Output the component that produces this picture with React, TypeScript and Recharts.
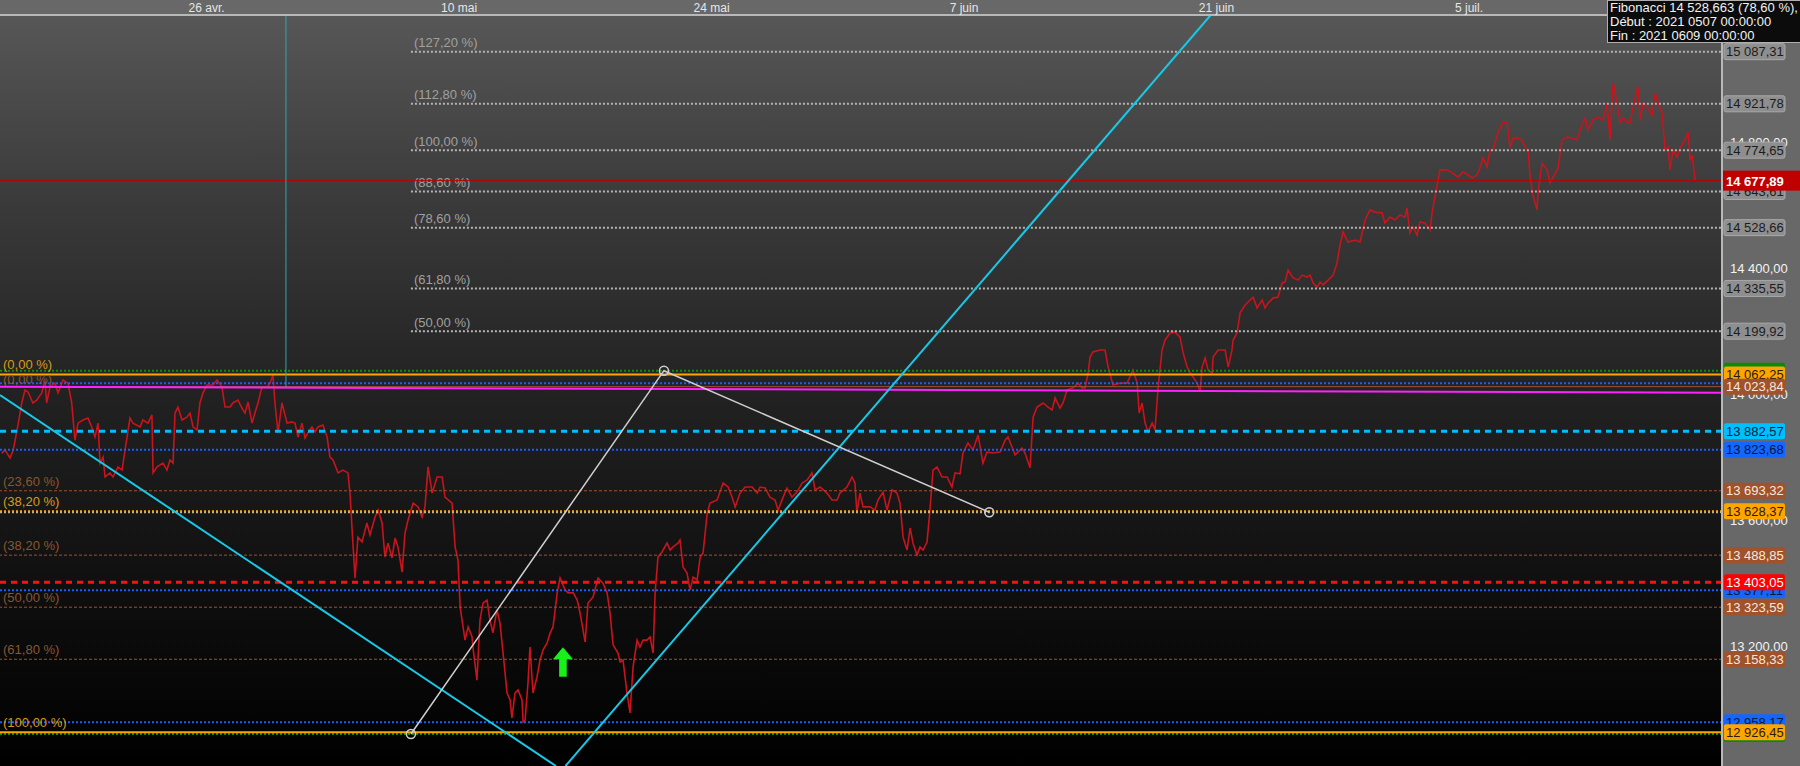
import React from "react";
import { LineChart, Line, XAxis, YAxis, ReferenceLine, ReferenceDot } from "recharts";

// ---- axes ----
const X_MIN = -11.456; // days relative to 26 avr.
const X_MAX = 84.03;
const Y_MIN = 12819.4;
const Y_MAX = 15203.8;
const xTickDays = [0, 14, 28, 42, 56, 70];
const xTickLabels = ["26 avr.", "10 mai", "24 mai", "7 juin", "21 juin", "5 juil."];
const yTicks = [13200, 13600, 14000, 14400, 14800, 15200];

// ---- price series: [day, value] ----
const priceSeries: [number, number][] = [
  [-11.36,13812],[-11.18,13823],[-10.9,13797],[-10.72,13823],[-10.44,13908],[-10.25,13972],[-10.07,14013],[-9.9,14007],[-9.63,13972],[-9.42,13981],[-9.14,14004],[-8.96,14045],[-8.87,13972],[-8.68,14023],[-8.41,14035],[-8.24,14004],[-7.96,14045],[-7.69,14035],[-7.48,13972],[-7.3,13854],[-7.13,13908],[-6.85,13918],[-6.58,13924],[-6.37,13896],[-6.19,13864],[-6.02,13908],[-5.91,13781],[-5.74,13800],[-5.63,13737],[-5.36,13750],[-5.19,13737],[-4.91,13769],[-4.69,13759],[-4.52,13823],[-4.25,13924],[-4.08,13908],[-3.69,13896],[-3.53,13918],[-3.25,13908],[-3.03,13934],[-2.97,13750],[-2.75,13769],[-2.42,13781],[-2.2,13759],[-2.03,13791],[-1.86,13781],[-1.75,13940],[-1.59,13959],[-1.36,13918],[-1.09,13927],[-0.92,13940],[-0.75,13896],[-0.53,13886],[-0.37,13972],[-0.2,14004],[0.02,14029],[0.35,14029],[0.58,14045],[0.85,14023],[1.02,13959],[1.3,13959],[1.46,13972],[1.74,13981],[1.96,13956],[2.13,13940],[2.3,13975],[2.52,13908],[2.68,13940],[2.85,13972],[3.07,14023],[3.35,14023],[3.52,14035],[3.68,14061],[3.79,13972],[3.96,13877],[4.18,13972],[4.46,13908],[4.73,13912],[4.9,13908],[5.07,13864],[5.29,13908],[5.46,13861],[5.62,13877],[5.84,13896],[6.01,13880],[6.18,13896],[6.45,13902],[6.68,13864],[6.84,13800],[7.01,13791],[7.29,13750],[7.56,13759],[7.84,13750],[7.95,13686],[8.06,13578],[8.23,13416],[8.39,13546],[8.62,13531],[8.89,13591],[9.06,13553],[9.34,13610],[9.51,13632],[9.73,13591],[9.89,13483],[10.06,13527],[10.28,13480],[10.45,13543],[10.61,13515],[10.84,13435],[11.0,13559],[11.17,13600],[11.45,13654],[11.73,13642],[11.95,13610],[12.11,13642],[12.28,13769],[12.51,13686],[12.78,13737],[13.06,13737],[13.22,13673],[13.61,13654],[13.78,13515],[13.94,13473],[14.06,13324],[14.33,13219],[14.5,13261],[14.72,13229],[14.77,13197],[14.99,13092],[15.16,13283],[15.33,13337],[15.55,13346],[15.71,13283],[15.88,13242],[16.1,13315],[16.27,13273],[16.44,13178],[16.66,13051],[16.83,13029],[16.93,12972],[17.1,13051],[17.27,13061],[17.49,13029],[17.55,12959],[17.66,12965],[17.82,13083],[17.93,13197],[18.1,13051],[18.32,13102],[18.49,13156],[18.66,13188],[18.88,13210],[19.05,13242],[19.21,13261],[19.44,13369],[19.6,13416],[19.88,13378],[20.05,13369],[20.33,13369],[20.55,13346],[20.71,13305],[20.99,13213],[21.15,13337],[21.43,13356],[21.71,13416],[21.98,13400],[22.21,13369],[22.37,13305],[22.54,13204],[22.81,13178],[22.93,13150],[23.09,13156],[23.31,13051],[23.48,12988],[23.65,13134],[23.87,13219],[24.03,13197],[24.2,13219],[24.42,13219],[24.59,13229],[24.76,13178],[24.87,13369],[25.03,13483],[25.25,13499],[25.53,13527],[25.7,13505],[25.86,13515],[26.14,13527],[26.25,13537],[26.42,13451],[26.64,13432],[26.81,13378],[26.98,13419],[27.2,13410],[27.37,13483],[27.53,13496],[27.76,13623],[27.92,13654],[28.31,13664],[28.64,13718],[28.92,13705],[29.14,13673],[29.31,13642],[29.58,13686],[29.86,13705],[30.25,13705],[30.53,13686],[30.69,13705],[30.97,13702],[31.24,13673],[31.52,13664],[31.69,13632],[31.97,13673],[32.18,13702],[32.46,13673],[32.74,13689],[33.02,13718],[33.29,13727],[33.57,13750],[33.74,13696],[34.02,13705],[34.4,13686],[34.68,13664],[34.96,13664],[35.12,13686],[35.51,13705],[35.79,13737],[35.95,13718],[36.06,13623],[36.23,13686],[36.4,13642],[36.79,13642],[37.06,13632],[37.23,13664],[37.51,13689],[37.73,13632],[38.01,13696],[38.28,13686],[38.45,13654],[38.62,13546],[38.84,13505],[39.01,13575],[39.17,13527],[39.39,13489],[39.56,13515],[39.73,13505],[39.95,13531],[40.11,13632],[40.28,13759],[40.5,13769],[40.78,13737],[41.06,13737],[41.33,13705],[41.5,13750],[41.78,13747],[41.94,13813],[42.22,13845],[42.5,13823],[42.78,13870],[43.05,13781],[43.27,13816],[43.61,13813],[44.0,13816],[44.28,13854],[44.44,13864],[44.66,13832],[44.83,13807],[45.22,13829],[45.38,13813],[45.66,13766],[45.83,13927],[46.05,13959],[46.38,13972],[46.66,13959],[46.88,13950],[47.05,13988],[47.32,13956],[47.49,13972],[47.71,14013],[48.05,14020],[48.32,14035],[48.55,14020],[48.71,14020],[48.88,14067],[48.99,14118],[49.15,14134],[49.54,14140],[49.82,14140],[49.99,14086],[50.26,14029],[50.65,14035],[51.04,14035],[51.37,14077],[51.6,14035],[51.71,13940],[51.87,13972],[52.04,13908],[52.21,13880],[52.43,13908],[52.59,13886],[52.76,14020],[52.98,14140],[53.15,14172],[53.43,14194],[53.7,14197],[53.98,14181],[54.15,14131],[54.37,14086],[54.54,14067],[54.71,14054],[54.93,14035],[55.09,14007],[55.2,14086],[55.37,14115],[55.53,14077],[55.76,14067],[55.81,14118],[56.09,14140],[56.48,14140],[56.65,14086],[56.86,14140],[56.92,14172],[57.14,14194],[57.31,14258],[57.59,14283],[57.86,14299],[58.03,14308],[58.25,14274],[58.53,14299],[58.69,14274],[58.86,14289],[59.14,14305],[59.41,14308],[59.64,14353],[59.8,14356],[59.97,14394],[60.25,14369],[60.52,14362],[60.75,14378],[61.02,14372],[61.19,14378],[61.36,14353],[61.58,14340],[61.74,14356],[61.91,14347],[62.19,14362],[62.47,14378],[62.68,14416],[62.85,14474],[63.02,14515],[63.29,14483],[63.68,14489],[63.96,14483],[64.24,14553],[64.51,14585],[64.79,14578],[65.18,14575],[65.34,14543],[65.62,14562],[65.9,14553],[66.17,14569],[66.45,14562],[66.56,14591],[66.73,14512],[66.9,14531],[67.12,14505],[67.28,14547],[67.56,14543],[67.84,14521],[67.95,14575],[68.23,14664],[68.39,14712],[68.78,14712],[69.11,14702],[69.39,14689],[69.67,14705],[69.95,14696],[70.17,14686],[70.45,14696],[70.61,14718],[70.78,14750],[71.0,14721],[71.17,14775],[71.34,14775],[71.61,14832],[71.89,14864],[72.11,14864],[72.28,14782],[72.44,14813],[72.72,14813],[72.94,14807],[73.11,14785],[73.28,14775],[73.39,14689],[73.55,14632],[73.77,14585],[73.83,14639],[74.05,14734],[74.33,14712],[74.49,14670],[74.66,14689],[74.94,14718],[75.16,14807],[75.44,14816],[75.72,14813],[75.99,14807],[76.16,14839],[76.44,14877],[76.6,14839],[76.88,14870],[77.16,14880],[77.43,14870],[77.66,14924],[77.82,14807],[77.99,14988],[78.21,14924],[78.38,14861],[78.54,14877],[78.76,14864],[78.93,14861],[79.1,14912],[79.32,14966],[79.38,14975],[79.49,14870],[79.66,14924],[79.88,14912],[80.15,14886],[80.32,14956],[80.49,14924],[80.71,14893],[80.87,14775],[81.04,14785],[81.15,14712],[81.32,14775],[81.54,14753],[81.71,14782],[81.98,14807],[82.15,14832],[82.26,14743],[82.37,14759],[82.54,14677.89],
];

// ---- drawing-tool levels ----
const currentPrice = 14677.89;
const greyFibStartDay = 11.33;
const greyFibLevels = [15087.31, 14921.78, 14774.65, 14643.61, 14528.66, 14335.55, 14199.92];
const greyFibLabels = ["(127,20 %)", "(112,80 %)", "(100,00 %)", "(88,60 %)", "(78,60 %)", "(61,80 %)", "(50,00 %)"];
const greyFibZero = 13625.19;
const greenLevels = [14074.5, 12921.0];
const blueLevels = [14034.5, 13823.68, 13377.11, 12958.17];
const orangeLevels = [14062.25, 13628.37, 12926.45];
const orangeLabels = ["(0,00 %)", "(38,20 %)", "(100,00 %)"];
const brownLevels = [14023.84, 13693.32, 13488.85, 13323.59, 13158.33];
const brownLabels = ["(0,00 %)", "(23,60 %)", "(38,20 %)", "(50,00 %)", "(61,80 %)"];
const cyanDashLevel = 13882.57;
const redDashLevel = 13403.05;
const magentaTrend: [number, number] = [14023.7, 14004.6];
const descChannel = [[X_MIN, 13997.3], [19.37, Y_MIN]];
const ascChannel = [[19.9, Y_MIN], [55.68, Y_MAX]];
const greyPathDays = [11.33, 25.36, 43.4];
const greyPathValues = [12921.0, 14074.5, 13625.19];
const cursorDay = 4.4;
const cursorEnd = 14023.7;
const arrowPoint = { d: 19.76, v: 13149 };

const FONT = "'Liberation Sans', Arial, sans-serif";

const fmt = (v: number) => {
  const [i, f] = v.toFixed(2).split(".");
  return i.replace(/\B(?=(\d{3})+(?!\d))/g, " ") + "," + f;
};

const priceData = priceSeries.map(([d, v]) => ({ d, v }));
const greyPath = greyPathDays.map((d, i) => ({ d, v: greyPathValues[i] }));

type LabelOpts = {
  left?: string;
  leftColor?: string;
  dy?: number;
  box?: string;
  boxFill?: string;
  boxText?: string;
  boxStroke?: string;
  current?: boolean;
  tick?: string;
};

const mkLabel = (o: LabelOpts) => (p: any) => {
  const vb = p.viewBox || { x: 0, y: 0, width: 0, height: 0 };
  const y = vb.y + (vb.height || 0) / 2;
  const right = vb.x + vb.width;
  return (
    <g>
      {o.tick && (
        <text x={right + 8} y={y + 4.6} fill="#f2f2f2" fontSize={13} fontFamily={FONT}>
          {o.tick}
        </text>
      )}
      {o.left && (
        <text x={vb.x + 3} y={y - (o.dy ?? 5)} fill={o.leftColor} fontSize={13} fontFamily={FONT}>
          {o.left}
        </text>
      )}
      {o.box && o.current && (
        <g>
          <rect x={right} y={y - 10} width={78} height={20} fill="#c00000" />
          <text x={right + 4} y={y + 5} fill="#ffffff" fontSize={13} fontWeight="bold" fontFamily={FONT}>
            {o.box}
          </text>
        </g>
      )}
      {o.box && !o.current && (
        <g>
          <rect x={right + 2} y={y - 8} width={61} height={16} rx={2} fill={o.boxFill} stroke={o.boxStroke ?? "none"} strokeWidth={1} />
          <text x={right + 4} y={y + 4.6} fill={o.boxText} fontSize={13} fontFamily={FONT}>
            {o.box}
          </text>
        </g>
      )}
    </g>
  );
};

const arrowShape = (p: any) => {
  const { cx, cy } = p;
  const d = `M${cx} ${cy - 15} L${cx + 10} ${cy - 3} L${cx + 3.8} ${cy - 3} L${cx + 3.8} ${cy + 14.5} L${cx - 3.8} ${cy + 14.5} L${cx - 3.8} ${cy - 3} L${cx - 10} ${cy - 3} Z`;
  return <path d={d} fill="#19f019" />;
};

export default function App() {
  return (
    <div style={{ position: "absolute", left: 0, top: 0, width: 1800, height: 766, overflow: "hidden", background: "#686868" }}>
      <div
        style={{
          position: "absolute",
          left: 0,
          top: 15,
          width: 1722,
          height: 751,
          background: "linear-gradient(to bottom, #575757 0%, #3a3a3a 25%, #222222 50%, #101010 75%, #000000 100%)",
        }}
      />
      <div style={{ position: "absolute", left: 0, top: 0 }}>
        <LineChart width={1800} height={766} data={priceData} margin={{ top: 0, right: 0, bottom: 0, left: 0 }} style={{ fontFamily: FONT }}>
          <XAxis
            dataKey="d"
            type="number"
            orientation="top"
            height={15}
            domain={[X_MIN, X_MAX]}
            allowDataOverflow
            ticks={xTickDays}
            tickFormatter={(v: number) => xTickLabels[xTickDays.indexOf(v)] ?? ""}
            tickLine={false}
            tickSize={0}
            tickMargin={3}
            axisLine={{ stroke: "#b8b8b8", strokeWidth: 2 }}
            tick={{ fill: "#e6e6e6", fontSize: 12, fontFamily: FONT }}
          />
          <YAxis
            orientation="right"
            width={78}
            type="number"
            domain={[Y_MIN, Y_MAX]}
            allowDataOverflow
            ticks={yTicks}
            tick={false}
            tickLine={false}
            axisLine={{ stroke: "#b8b8b8", strokeWidth: 2 }}
          />

          <Line type="linear" dataKey="v" stroke="#c8141c" strokeWidth={1.6} dot={false} activeDot={false} isAnimationActive={false} />

          {/* price-axis tick labels (drawn first so level boxes cover them) */}
          {yTicks.map((t) => (
            <ReferenceLine key={"tk" + t} y={t} ifOverflow="hidden" stroke="none" label={mkLabel({ tick: fmt(t) })} />
          ))}

          {/* grey fibonacci (from 7 May) */}
          {greyFibLevels.map((lv, i) => (
            <ReferenceLine
              key={"gf" + i}
              ifOverflow="hidden"
              segment={[{ x: greyFibStartDay, y: lv }, { x: X_MAX, y: lv }]}
              stroke="#b4b4b4"
              strokeWidth={2}
              strokeDasharray="2 2"
              label={mkLabel({ left: greyFibLabels[i], leftColor: "#a0a0a0", dy: 4.5, box: fmt(lv), boxFill: "#8e8e8e", boxText: "#1c1c1c", boxStroke: "#a8a8a8" })}
            />
          ))}
          <ReferenceLine y={greyFibZero} ifOverflow="hidden" stroke="#b4b4b4" strokeWidth={2} strokeDasharray="2 2" />

          {greenLevels.map((lv, i) => (
            <ReferenceLine key={"gr" + i} y={lv} ifOverflow="hidden" stroke="#0f8f0f" strokeWidth={2} strokeDasharray="2 2"
              label={mkLabel({ box: fmt(lv), boxFill: "#0a8a0a", boxText: "#0a8a0a" })} />
          ))}
          {blueLevels.map((lv, i) => (
            <ReferenceLine key={"bl" + i} y={lv} ifOverflow="hidden" stroke="#1a5cff" strokeWidth={2} strokeDasharray="2 2"
              label={mkLabel({ box: fmt(lv), boxFill: "#1466ff", boxText: "#001a40" })} />
          ))}
          {orangeLevels.map((lv, i) => (
            <ReferenceLine key={"or" + i} y={lv} ifOverflow="hidden" stroke="#ffa500" strokeWidth={2}
              strokeDasharray={i === 1 ? "2 2" : undefined}
              label={mkLabel({ left: orangeLabels[i], leftColor: "#d99a1c", dy: 5.3, box: fmt(lv), boxFill: "#ffa500", boxText: "#2a1a00" })} />
          ))}
          {brownLevels.map((lv, i) => (
            <ReferenceLine key={"br" + i} y={lv} ifOverflow="hidden" stroke="#a0522d" strokeWidth={1}
              strokeDasharray={i === 0 ? undefined : "3 2"}
              label={mkLabel({ left: brownLabels[i], leftColor: "#8a5530", dy: i === 0 ? 3 : 5, box: fmt(lv), boxFill: "#a0522d", boxText: "#f4e8dc" })} />
          ))}
          <ReferenceLine y={cyanDashLevel} ifOverflow="hidden" stroke="#00bfff" strokeWidth={3} strokeDasharray="6 5"
            label={mkLabel({ box: fmt(cyanDashLevel), boxFill: "#00bfff", boxText: "#00203a" })} />
          <ReferenceLine y={redDashLevel} ifOverflow="hidden" stroke="#ff1010" strokeWidth={3} strokeDasharray="6 5"
            label={mkLabel({ box: fmt(redDashLevel), boxFill: "#ff0000", boxText: "#ffffff" })} />
          <ReferenceLine ifOverflow="hidden" segment={[{ x: X_MIN, y: magentaTrend[0] }, { x: X_MAX, y: magentaTrend[1] }]} stroke="#ff22ff" strokeWidth={2} />
          <ReferenceLine y={currentPrice} ifOverflow="hidden" stroke="#c00000" strokeWidth={1}
            label={mkLabel({ box: fmt(currentPrice), current: true })} />

          {/* channel lines */}
          <ReferenceLine ifOverflow="hidden" segment={[{ x: descChannel[0][0], y: descChannel[0][1] }, { x: descChannel[1][0], y: descChannel[1][1] }]} stroke="#19c8e6" strokeWidth={2} />
          <ReferenceLine ifOverflow="hidden" segment={[{ x: ascChannel[0][0], y: ascChannel[0][1] }, { x: ascChannel[1][0], y: ascChannel[1][1] }]} stroke="#19c8e6" strokeWidth={2} />
          <ReferenceLine ifOverflow="hidden" segment={[{ x: cursorDay, y: Y_MAX }, { x: cursorDay, y: cursorEnd }]} stroke="#2ea6b0" strokeWidth={1} />

          <Line
            data={greyPath}
            type="linear"
            dataKey="v"
            stroke="#cfcfcf"
            strokeWidth={1.5}
            dot={{ r: 4.5, stroke: "#d0d0d0", strokeWidth: 1.5, fill: "none" }}
            activeDot={false}
            isAnimationActive={false}
          />
          <ReferenceDot x={arrowPoint.d} y={arrowPoint.v} ifOverflow="hidden" shape={arrowShape} />
        </LineChart>
      </div>
      <div
        style={{
          position: "absolute",
          left: 1607,
          top: 0,
          width: 260,
          height: 43,
          boxSizing: "border-box",
          background: "#0c0c0c",
          border: "1px solid #b0b0b0",
          color: "#f2f2f2",
          fontFamily: FONT,
          fontSize: 13,
          lineHeight: "14px",
          padding: "0 0 0 2px",
          whiteSpace: "nowrap",
        }}
      >
        <div>Fibonacci 14 528,663 (78,60 %),</div>
        <div>Début : 2021 0507 00:00:00</div>
        <div>Fin : 2021 0609 00:00:00</div>
      </div>
    </div>
  );
}
